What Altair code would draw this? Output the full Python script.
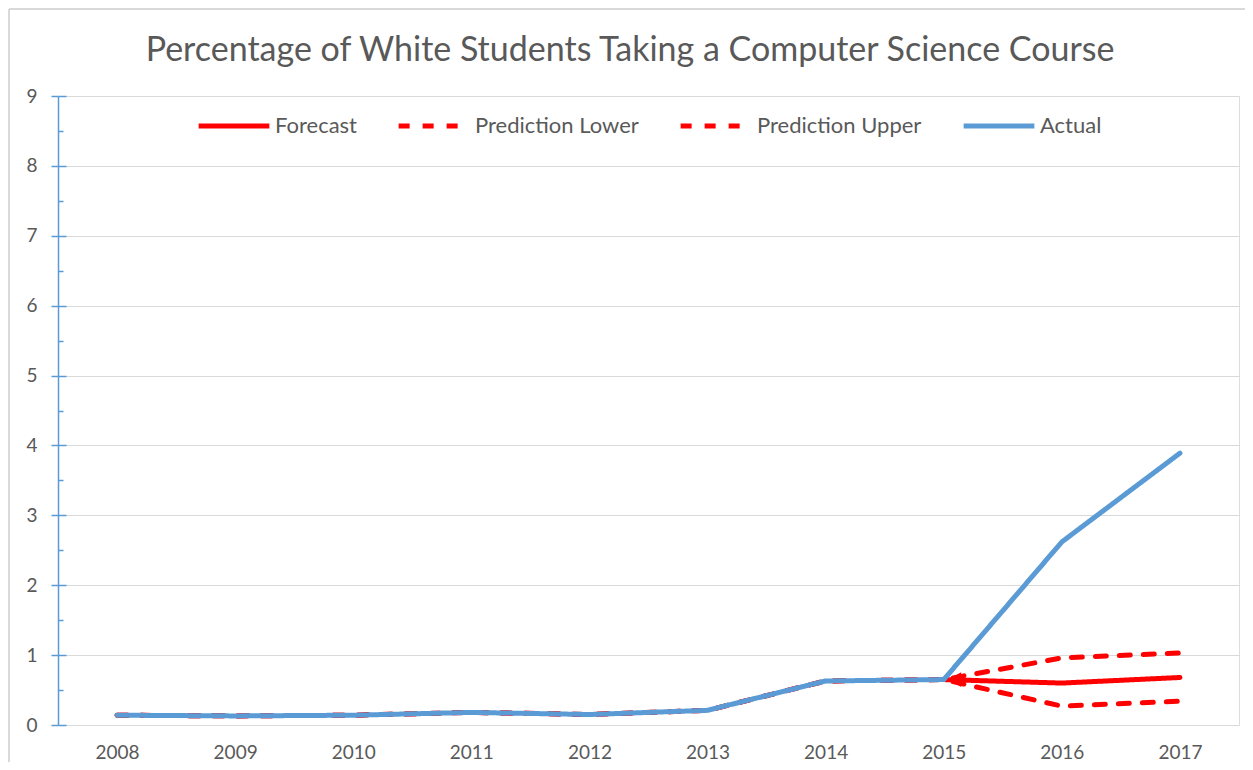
import altair as alt
import pandas as pd

years = ["2008", "2009", "2010", "2011", "2012", "2013", "2014", "2015", "2016", "2017"]
actual = [0.14, 0.13, 0.14, 0.18, 0.15, 0.21, 0.63, 0.65, 2.62, 3.89]
lower = [0.14, 0.13, 0.14, 0.18, 0.15, 0.21, 0.63, 0.65, 0.27, 0.34]
upper = [0.14, 0.13, 0.14, 0.18, 0.15, 0.21, 0.63, 0.65, 0.96, 1.03]
forecast_years = ["2015", "2016", "2017"]
forecast = [0.65, 0.60, 0.68]

title_text = "Percentage of White Students Taking a Computer Science Course"
series_names = ["Forecast", "Prediction Lower", "Prediction Upper", "Actual"]
y_ticks = list(range(10))
y_minor = [i + 0.5 for i in range(9)]

rows = []
for y, v in zip(forecast_years, forecast):
    rows.append({"Year": y, "Value": v, "Series": "Forecast"})
for y, v in zip(years, lower):
    rows.append({"Year": y, "Value": v, "Series": "Prediction Lower"})
for y, v in zip(years, upper):
    rows.append({"Year": y, "Value": v, "Series": "Prediction Upper"})
for y, v in zip(years, actual):
    rows.append({"Year": y, "Value": v, "Series": "Actual"})
df = pd.DataFrame(rows)
arrow_df = pd.DataFrame({"Year": [forecast_years[0]], "Value": [forecast[0]]})

RED = "#FF0000"
BLUE = "#5B9BD5"
TXT = "#595959"
BORDER = "#D9D9D9"
FONT = "Lato"

legend = alt.Legend(
    title=None, orient="none", legendX=138, legendY=-8, direction="horizontal",
    columns=4, symbolType="stroke", symbolSize=5000, symbolStrokeWidth=5,
    labelFontSize=22, labelColor=TXT, labelFont=FONT, columnPadding=31, labelOffset=3,
    labelLimit=400,
)
color = alt.Color("Series:N", scale=alt.Scale(domain=series_names, range=[RED, RED, RED, BLUE]), legend=legend)
dash = alt.StrokeDash("Series:N", scale=alt.Scale(domain=series_names, range=[[1, 0], [11, 13], [11, 13], [1, 0]]), legend=legend)

x_enc = alt.X("Year:O", sort=years, scale=alt.Scale(domain=years),
              axis=alt.Axis(title=None, labelAngle=0, labelFontSize=19, labelColor=TXT, labelFont=FONT,
                            domain=False, ticks=False, grid=False, labelPadding=18))
yscale = alt.Scale(domain=[0, 9], nice=False)

red = alt.Chart(df).transform_filter(alt.datum.Series != "Actual").mark_line(
    strokeWidth=5, strokeCap="round", strokeJoin="round"
).encode(
    x=x_enc,
    y=alt.Y("Value:Q", scale=yscale,
            axis=alt.Axis(title=None, values=y_ticks, grid=True, gridColor="#D9D9D9", gridWidth=1,
                          domainColor=BLUE, domainWidth=1.5, tickColor=BLUE, tickSize=7, tickWidth=1.5,
                          labelFontSize=19, labelColor=TXT, labelFont=FONT, labelPadding=14)),
    color=color, strokeDash=dash, detail="Series:N",
)

blue = alt.Chart(df).transform_filter(alt.datum.Series == "Actual").mark_line(
    strokeWidth=5, strokeCap="round", strokeJoin="round"
).encode(
    x=alt.X("Year:O", sort=years),
    y=alt.Y("Value:Q", scale=yscale,
            axis=alt.Axis(title=None, orient="left", offset=-8, values=y_ticks, tickSize=8, tickWidth=1.5,
                          tickColor=BLUE, labels=False, domain=False, grid=False)),
    color=color, strokeDash=dash,
)

arrow = alt.Chart(arrow_df).mark_point(
    shape="triangle-left", filled=True, color=RED, size=220, opacity=1, xOffset=11
).encode(
    x=alt.X("Year:O", sort=years),
    y=alt.Y("Value:Q", scale=yscale,
            axis=alt.Axis(title=None, orient="left", offset=-5, values=y_minor, tickSize=5, tickWidth=1.5,
                          tickColor=BLUE, labels=False, domain=False, grid=False)),
)

# chart-area frame (top and left edges visible in the reference)
frame_top = alt.Chart(arrow_df).mark_rule(color=BORDER, strokeWidth=2).encode(
    x=alt.value(-49), x2=alt.value(1190), y=alt.value(-87)
)
frame_left = alt.Chart(arrow_df).mark_rule(color=BORDER, strokeWidth=2).encode(
    x=alt.value(-49), y=alt.value(-87), y2=alt.value(670)
)

title = alt.Chart(arrow_df).mark_text(
    fontSize=34, color=TXT, font=FONT, fontWeight="normal", align="center", baseline="alphabetic"
).encode(x=alt.value(572), y=alt.value(-35), text=alt.value(title_text))

chart = alt.layer(frame_top, frame_left, title, red, blue, arrow).resolve_axis(y="independent").resolve_scale(y="shared").properties(
    width=1181, height=629,
    autosize=alt.AutoSizeParams(type="none"),
    padding={"left": 50, "top": 88, "right": 6, "bottom": 37},
).configure_view(strokeWidth=0).configure(font=FONT)

chart.save("out.html", embed_options={"renderer": "svg", "actions": False})
